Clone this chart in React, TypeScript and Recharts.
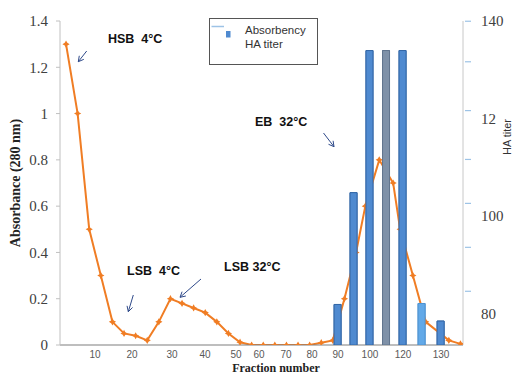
import React from "react";
import { ComposedChart, Line, Bar, XAxis, YAxis, Cell } from "recharts";

// absorbance (280 nm) — x is the plotting slot along the fraction axis
const absSlots = [
  0, 1, 2, 3, 4, 5, 6, 7, 8, 9, 10, 11, 12, 13, 14, 15, 16, 17, 18, 19, 20, 21,
  22, 23, 24, 25, 25.8, 27, 28.2, 28.8, 29.9, 31, 33, 34,
];
const absValues = [
  1.3, 1.0, 0.5, 0.3, 0.1, 0.05, 0.04, 0.02, 0.1, 0.2, 0.18, 0.16, 0.14, 0.1,
  0.05, 0.012, 0, 0, 0, 0, 0, 0, 0.01, 0.02, 0.2, 0.4, 0.6, 0.8, 0.7, 0.5, 0.3,
  0.1, 0.02, 0.005,
];

// fraction number tick labels and where they sit on the slot axis
const tickFractions = [10, 20, 30, 40, 50, 60, 70, 80, 90, 100, 120, 130];
const tickSlots = [2.5, 5.69, 9.14, 11.98, 14.66, 16.64, 18.97, 21.21, 23.45, 26.2, 29.05, 32.33];

// HA titer bars
const titerFractions = [90, 95, 100, 110, 120, 125, 130];
const titerValues = [82.3, 105.2, 134.3, 134.3, 134.3, 82.5, 78.9];

const absTicks = [0, 0.2, 0.4, 0.6, 0.8, 1, 1.2, 1.4];
const haLabelTicks = [80, 100, 120, 140];
const haLabelText = ["80", "100", "12", "140"];
const haMarkTicks = [85, 94, 103, 112, 122, 132, 140.3];

const barFill: Record<number, [string, string]> = {
  110: ["#7f91a8", "#62758e"],
  125: ["#62a9e8", "#4f93d2"],
};
const defaultBar: [string, string] = ["#4f8ad0", "#3468a8"];

// fraction number -> slot, piecewise along the labelled ticks
function slotOf(f: number) {
  for (let i = 0; i < tickFractions.length - 1; i++) {
    const a = tickFractions[i], b = tickFractions[i + 1];
    if (f >= a && f <= b) {
      return tickSlots[i] + ((f - a) / (b - a)) * (tickSlots[i + 1] - tickSlots[i]);
    }
  }
  return tickSlots[tickSlots.length - 1];
}

const absData = absSlots.map((x, i) => ({ x, abs: absValues[i] }));
const titerData = titerFractions.map((f, i) => ({ x: slotOf(f), titer: titerValues[i], frac: f }));

const X_DOMAIN: [number, number] = [-0.52, 34.22];
const ABS_DOMAIN: [number, number] = [0, 1.4];
const HA_DOMAIN: [number, number] = [74, 140.35];
const W = 513, H = 375;
const PLOT_MARGIN = { top: 21, right: 50, bottom: 30, left: 60 };

const ORANGE = "#f07d24";
const SANS = "'Liberation Sans', Arial, sans-serif";
const SERIF = "'Liberation Serif', 'Times New Roman', serif";

const StarDot = (props: any) => {
  const { cx, cy, index } = props;
  if (cx == null || cy == null) return <g key={"d" + index} />;
  const r = 3.6, s = 1.3;
  const d = `M${cx},${cy - r}L${cx + s},${cy - s}L${cx + r},${cy}L${cx + s},${cy + s}L${cx},${cy + r}L${cx - s},${cy + s}L${cx - r},${cy}L${cx - s},${cy - s}Z`;
  return <path key={"d" + index} d={d} fill={ORANGE} />;
};

const HaTick = (props: any) => {
  const { x, y, payload } = props;
  const li = haLabelTicks.indexOf(payload.value);
  if (li >= 0) {
    return (
      <text x={x + 18} y={y} dominantBaseline="middle" fontSize={15} fontFamily={SERIF} fill="#404040">
        {haLabelText[li]}
      </text>
    );
  }
  return <line x1={x + 2} x2={x + 8} y1={y} y2={y} stroke="#9dc3e6" strokeWidth={1.2} />;
};

const arrows = [
  [86.7, 51, 78.3, 61.7],
  [133.3, 295, 128.3, 311.7],
  [201, 279, 180, 297.3],
  [323.5, 133, 334, 146.7],
];

function Arrow({ a }: { a: number[] }) {
  const [x1, y1, x2, y2] = a;
  const ang = Math.atan2(y2 - y1, x2 - x1);
  const L = 6, w = 0.5;
  const h1 = [x2 - L * Math.cos(ang - w), y2 - L * Math.sin(ang - w)];
  const h2 = [x2 - L * Math.cos(ang + w), y2 - L * Math.sin(ang + w)];
  return (
    <g stroke="#2f4a8a" strokeWidth={1} fill="none">
      <line x1={x1} y1={y1} x2={x2} y2={y2} />
      <polyline points={`${h1[0]},${h1[1]} ${x2},${y2} ${h2[0]},${h2[1]}`} />
    </g>
  );
}

const noteStyle = {
  fontFamily: SANS,
  fontWeight: 700,
  fontSize: 12.5,
  fill: "#111",
  style: { whiteSpace: "pre" as const },
};

function TiterBars() {
  return (
    <Bar yAxisId="ha" xAxisId="bars" dataKey="titer" barSize={7} isAnimationActive={false}>
      {titerData.map((r, i) => {
        const [fill, stroke] = barFill[r.frac] ?? defaultBar;
        return <Cell key={i} fill={fill} stroke={stroke} strokeWidth={1} />;
      })}
    </Bar>
  );
}

export default function App() {
  return (
    <div style={{ position: "absolute", left: 0, top: 0, width: W, height: H, background: "#fff", overflow: "hidden" }}>
      {/* axes + absorbance line */}
      <ComposedChart width={W} height={H} data={titerData} margin={{ top: 21, right: 0, bottom: 0, left: 0 }}>
        <XAxis
          dataKey="x" type="number" domain={X_DOMAIN} allowDataOverflow
          ticks={tickSlots} interval={0}
          tickFormatter={(v: number) => String(tickFractions[tickSlots.indexOf(v)] ?? "")}
          tickLine={false} tickMargin={0} height={30}
          axisLine={{ stroke: "#7f7f7f", strokeWidth: 1.2 }}
          tick={{ fontSize: 10, fill: "#595959", fontFamily: SANS }}
        />
        <XAxis xAxisId="bars" dataKey="x" type="number" domain={X_DOMAIN} allowDataOverflow hide />
        <YAxis
          yAxisId="abs" domain={ABS_DOMAIN} allowDataOverflow ticks={absTicks} interval={0}
          width={60} tickSize={4} tickMargin={8}
          axisLine={{ stroke: "#c0c0c0" }} tickLine={{ stroke: "#c0c0c0" }}
          tick={{ fontSize: 15, fill: "#404040", fontFamily: SERIF }}
        />
        <YAxis
          yAxisId="ha" orientation="right" domain={HA_DOMAIN} allowDataOverflow
          ticks={[...haLabelTicks, ...haMarkTicks]} interval={0}
          width={50} tickSize={0} tickMargin={0} tickLine={false}
          axisLine={{ stroke: "#c8c8c8" }} tick={<HaTick />}
        />
        {TiterBars()}
        <Line
          yAxisId="abs" data={absData} dataKey="abs" stroke={ORANGE} strokeWidth={2}
          dot={StarDot} activeDot={false} isAnimationActive={false} type="linear"
        />
      </ComposedChart>

      {/* bars again on top, so they cover the line as in the original */}
      <div style={{ position: "absolute", left: 0, top: 0 }}>
        <ComposedChart width={W} height={H} data={titerData} margin={PLOT_MARGIN}>
          <XAxis xAxisId="bars" dataKey="x" type="number" domain={X_DOMAIN} allowDataOverflow hide />
          <YAxis yAxisId="ha" domain={HA_DOMAIN} allowDataOverflow hide />
          {TiterBars()}
        </ComposedChart>
      </div>

      <svg width={W} height={H} style={{ position: "absolute", left: 0, top: 0, pointerEvents: "none" }}>
        {/* legend */}
        <rect x={209.5} y={18.5} width={108} height={46} fill="#fff" stroke="#555" strokeWidth={1} />
        <line x1={211.5} x2={224} y1={26.5} y2={26.5} stroke="#9dc3e6" strokeWidth={1.5} />
        <rect x={226} y={31} width={4.5} height={6.5} fill="#4f8ad0" />
        <text x={245} y={31} dominantBaseline="middle" fontSize={11.5} fill="#333" fontFamily={SANS}>Absorbency</text>
        <text x={245} y={45} dominantBaseline="middle" fontSize={11.5} fill="#333" fontFamily={SANS}>HA titer</text>

        {/* peak annotations */}
        <text x={108} y={40} dominantBaseline="middle" {...noteStyle}>HSB  4°C</text>
        <text x={255} y={123} dominantBaseline="middle" {...noteStyle}>EB  32°C</text>
        <text x={127} y={272} dominantBaseline="middle" {...noteStyle}>LSB  4°C</text>
        <text x={224} y={268} dominantBaseline="middle" {...noteStyle}>LSB 32°C</text>
        {arrows.map((a, i) => <Arrow key={i} a={a} />)}

        {/* axis titles */}
        <text x={17} y={183} transform="rotate(-90 17 183)" textAnchor="middle" dominantBaseline="middle"
          fontSize={14} fontWeight={700} fill="#222" fontFamily={SERIF}>
          Absorbance (280 nm)
        </text>
        <text x={276} y={372} textAnchor="middle" fontSize={12} fontWeight={700} fill="#222" fontFamily={SERIF}>
          Fraction number
        </text>
        <text x={511} y={137} transform="rotate(-90 511 137)" textAnchor="middle" fontSize={11} fill="#333" fontFamily={SANS}>
          HA titer
        </text>
      </svg>
    </div>
  );
}
